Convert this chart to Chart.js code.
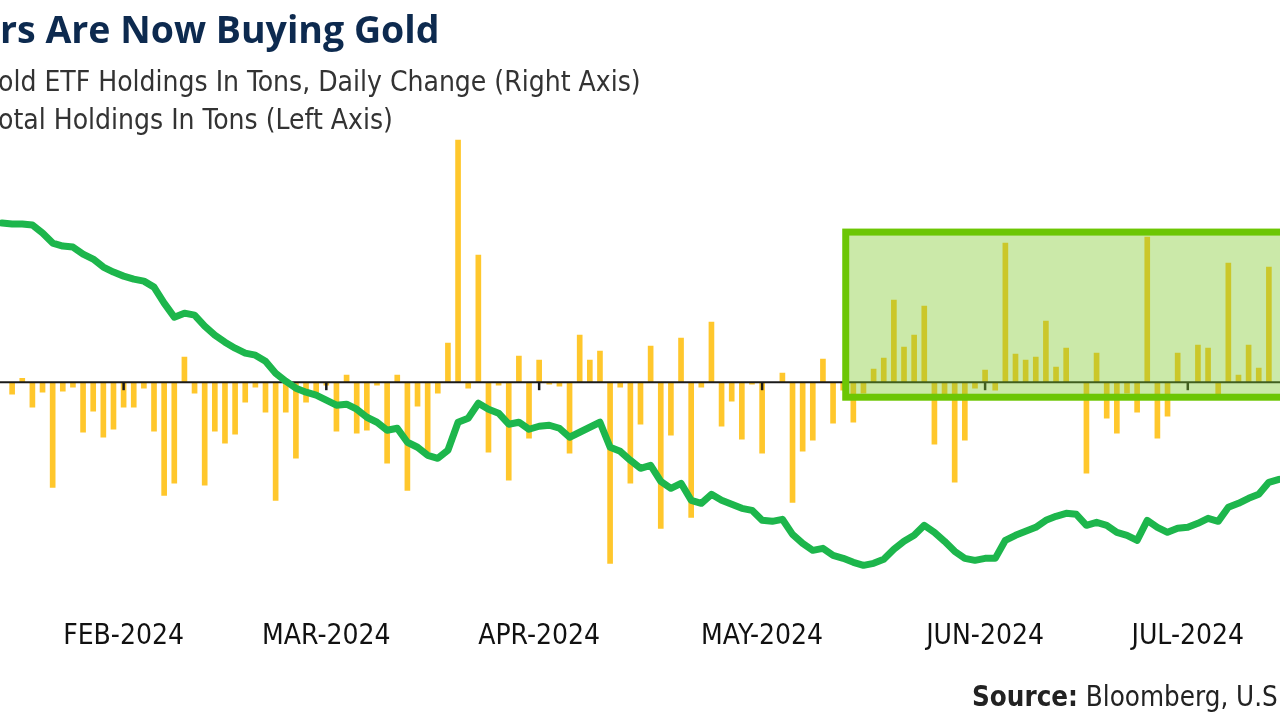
<!DOCTYPE html>
<html>
<head>
<meta charset="utf-8">
<script src="https://cdn.jsdelivr.net/npm/chart.js@4.4.1/dist/chart.umd.min.js"></script>
<style>
  html, body { margin: 0; padding: 0; background: #fff; width: 1280px; height: 719px; overflow: hidden; position: relative; }
  #chart-wrap { position: absolute; left: -6px; top: 0; width: 1293px; height: 719px; }
  .title { position: absolute; left: 0; top: 7px; font: 700 37.5px "Open Sans", sans-serif; color: #0d2a4f; white-space: nowrap; line-height: 44px; }
  .legend { position: absolute; left: -2px; font: 400 28px "Liberation Sans Narrow", "DejaVu Sans Condensed", sans-serif; color: #333; white-space: nowrap; line-height: 34px; }
  .source { position: absolute; left: 972px; top: 680px; font: 400 27.5px "Liberation Sans Narrow", "DejaVu Sans Condensed", sans-serif; color: #222; white-space: nowrap; line-height: 32px; }
  .source b { font-weight: 700; }
</style>
</head>
<body>
<div id="chart-wrap"><canvas id="gold-chart"></canvas></div>
<div class="title">rs Are Now Buying Gold</div>
<div class="legend" style="top:65px">old ETF Holdings In Tons, Daily Change (Right Axis)</div>
<div class="legend" style="top:103px">otal Holdings In Tons (Left Axis)</div>
<div class="source"><b>Source:</b> Bloomberg, U.S</div>

<script>
// dnevne spremembe ETF (tone, desna os) - prvi in zadnji dan sta izven slike
const dailyChange = [
  null,
  -1.2, 0.4, -2.5, -1.0, -10.5, -0.9, -0.5, -5.0, -2.9, -5.5,
  -4.7, -2.5, -2.5, -0.6, -4.9, -11.3, -10.1, 2.5, -1.1, -10.3,
  -4.9, -6.1, -5.2, -2.0, -0.5, -3.0, -11.8, -3.0, -7.6, -2.0,
  -1.5, -0.3, -4.9, 0.7, -5.1, -4.8, -0.3, -8.1, 0.7, -10.8,
  -2.4, -7.0, -1.1, 3.9, 24.2, -0.6, 12.7, -7.0, -0.3, -9.8,
  2.6, -5.6, 2.2, -0.2, -0.4, -7.1, 4.7, 2.2, 3.1, -18.1,
  -0.5, -10.1, -4.2, 3.6, -14.6, -5.3, 4.4, -13.5, -0.5, 6.0,
  -4.4, -1.9, -5.7, -0.2, -7.1, 0, 0.9, -12.0, -6.9, -5.8,
  2.3, -4.1, -0.8, -4.0, -1.1, 1.3, 2.4, 8.2, 3.5, 4.7,
  7.6, -6.2, -1.3, -10.0, -5.8, -0.6, 1.2, -0.8, 13.9, 2.8,
  2.2, 2.5, 6.1, 1.5, 3.4, 0, -9.1, 2.9, -3.6, -5.1,
  -1.1, -3.0, 14.5, -5.6, -3.4, 2.9, 0, 3.7, 3.4, -1.3,
  11.9, 0.7, 3.7, 1.4, 11.5,
  null
];

// skupne zaloge (tone, leva os)
const totalHoldings = [
  3254,
  3253.5, 3253.5, 3253, 3249, 3244, 3242.5, 3242, 3238.5, 3236, 3232,
  3229.5, 3227.5, 3226, 3225, 3222, 3214, 3207, 3209, 3208, 3202.5,
  3198, 3194.5, 3191.5, 3189, 3188, 3185, 3179, 3175, 3171.5, 3169.5,
  3168, 3165.5, 3163, 3163.5, 3161, 3157, 3154.5, 3150.5, 3151.5, 3144.5,
  3142, 3138, 3136.5, 3140.5, 3154.5, 3156.5, 3164, 3161, 3159, 3153.5,
  3154.5, 3151, 3152.5, 3153, 3151.5, 3147, 3149.5, 3152, 3154.5, 3142,
  3140, 3135.5, 3131.5, 3133, 3125, 3121.5, 3124, 3115.5, 3114, 3118.5,
  3115.5, 3113.5, 3111.5, 3110.5, 3105.5, 3105, 3106, 3098.5, 3094, 3090.5,
  3091.5, 3088, 3086.5, 3084.5, 3083, 3084, 3086, 3091, 3095, 3098,
  3103, 3099.5, 3095, 3090, 3086.5, 3085.5, 3086.5, 3086.5, 3095.5, 3098,
  3100, 3102, 3105.5, 3107.5, 3109, 3108.5, 3103, 3104.5, 3103, 3099.5,
  3098, 3095.5, 3105.5, 3102, 3099.5, 3101.5, 3102, 3104, 3106.5, 3105,
  3112, 3114, 3116.5, 3118.5, 3124.5,
  3126
];

// trgovalni dnevi (kategorije) in oznake mesecev
const tradingDays = totalHoldings.map((_, i) => 'd' + i);
const monthLabels = ['FEB-2024', 'MAR-2024', 'APR-2024', 'MAY-2024', 'JUN-2024', 'JUL-2024'];
const monthStartIdx = [12, 32, 53, 75, 97, 117];

// označeno obdobje nakupov (od dneva do konca, desna os)
const buyingWindow = { from: 83.25, to: 130, top: 15, bottom: -1.5 };

const narrowFont = '"Liberation Sans Narrow", "DejaVu Sans Condensed", sans-serif';

// ničelna črta + oznake mesecev, nato zeleni okvir
const overlayPlugin = {
  id: 'overlay',
  afterDatasetDraw(chart, args) {
    if (args.index !== 0) return;
    const ctx = chart.ctx;
    const x = chart.scales.x;
    const yR = chart.scales.yR;
    const y0 = yR.getPixelForValue(0);
    ctx.save();
    ctx.strokeStyle = '#1a1a1a';
    ctx.lineWidth = 2;
    ctx.beginPath();
    ctx.moveTo(chart.chartArea.left, y0);
    ctx.lineTo(chart.chartArea.right, y0);
    ctx.stroke();
    ctx.lineWidth = 2.5;
    monthStartIdx.forEach(i => {
      const px = x.getPixelForValue(i);
      ctx.beginPath();
      ctx.moveTo(px, y0);
      ctx.lineTo(px, y0 + 8);
      ctx.stroke();
    });
    ctx.restore();
  },
  afterDatasetsDraw(chart) {
    const ctx = chart.ctx;
    const x = chart.scales.x;
    const yR = chart.scales.yR;
    const x1 = x.getPixelForValue(buyingWindow.from);
    const x2 = x.getPixelForValue(buyingWindow.to);
    const y1 = yR.getPixelForValue(buyingWindow.top);
    const y2 = yR.getPixelForValue(buyingWindow.bottom);
    ctx.save();
    ctx.fillStyle = 'rgba(125, 200, 40, 0.4)';
    ctx.fillRect(x1, y1, x2 - x1, y2 - y1);
    ctx.strokeStyle = '#6cc604';
    ctx.lineWidth = 7;
    ctx.strokeRect(x1, y1, x2 - x1, y2 - y1);
    ctx.restore();
  }
};

const chart = new Chart(document.getElementById('gold-chart'), {
  data: {
    labels: tradingDays,
    datasets: [
      {
        type: 'bar',
        label: 'Gold ETF Holdings In Tons, Daily Change',
        data: dailyChange,
        yAxisID: 'yR',
        backgroundColor: '#ffc72c',
        barThickness: 5,
        order: 2
      },
      {
        type: 'line',
        label: 'Total Holdings In Tons',
        data: totalHoldings,
        yAxisID: 'yL',
        borderColor: '#1db64c',
        borderWidth: 7,
        pointRadius: 0,
        tension: 0,
        borderJoinStyle: 'round',
        borderCapStyle: 'round',
        order: 1
      }
    ]
  },
  options: {
    responsive: true,
    maintainAspectRatio: false,
    animation: false,
    layout: { padding: { top: 131, bottom: 57, left: 0, right: 0 } },
    plugins: {
      legend: { display: false },
      tooltip: { enabled: false }
    },
    scales: {
      x: {
        grid: { display: false, drawTicks: false },
        border: { display: false },
        ticks: {
          autoSkip: false,
          maxRotation: 0,
          minRotation: 0,
          padding: 8,
          color: '#111',
          font: { family: narrowFont, size: 28 },
          callback: (val, i) => {
            const m = monthStartIdx.indexOf(i);
            return m >= 0 ? monthLabels[m] : '';
          }
        }
      },
      yR: { position: 'right', display: false, min: -23.0, max: 25.1 },
      yL: { position: 'left', display: false, min: 3059.5, max: 3300 }
    }
  },
  plugins: [overlayPlugin]
});
</script>
</body>
</html>
